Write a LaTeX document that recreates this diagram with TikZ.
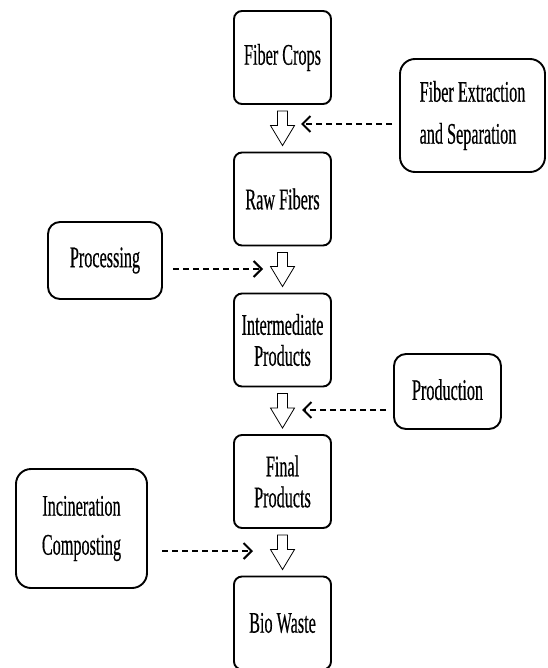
\documentclass[tikz,border=0pt]{standalone}
\usepackage{fontspec}
\setmainfont{Liberation Serif}[FakeStretch=0.54,FakeBold=0.4]
\usetikzlibrary{arrows.meta,calc}
\newcommand\flowblk[2]{%
  \draw[blockline] ($(#1.south)+(-5,6)$) -- ($(#1.south)+(5,6)$)
    -- ($(#2.north)+(5,-26)$) -- ($(#2.north)+(12,-26)$)
    -- ($(#2.north)+(0,-6)$) -- ($(#2.north)+(-12,-26)$)
    -- ($(#2.north)+(-5,-26)$) -- cycle;}
\begin{document}
\begin{tikzpicture}[x=1pt,y=-1pt,
  txt/.style={font=\fontsize{30}{31}\selectfont},
  mainbox/.style={draw,line width=1.9pt,rounded corners=8pt,minimum width=97pt,
    minimum height=93pt,inner sep=0pt,align=center,txt},
  sidebox/.style={draw,line width=1.9pt,rounded corners=12pt,inner sep=0pt,txt},
  blockline/.style={draw=black,line width=0.8pt,fill=white,line join=miter},
  dasharrow/.style={line width=2.1pt,dash pattern=on 6pt off 4pt,
    -{Straight Barb[length=8pt,width=16pt,line width=2pt]}}]
\useasboundingbox (0,0) rectangle (547,668);
\clip (0,0) rectangle (547,668);
% main column
\node[mainbox] (crops) at (282.5,57.5) {Fiber Crops};
\node[mainbox] (raw) at (282.5,199) {Raw Fibers};
\node[mainbox] (inter) at (282.5,340) {Intermediate\\Products};
\node[mainbox] (final) at (282.5,481.5) {Final\\Products};
\node[mainbox] (bio) at (282.5,623) {Bio Waste};
% side boxes
\node[sidebox,rounded corners=15pt,minimum width=145pt,minimum height=113pt,align=left]
  (fe) at (472.5,115.5) {Fiber Extraction\\[11pt]and Separation};
\node[sidebox,minimum width=114pt,minimum height=77pt] (proc) at (105,260.5) {\raisebox{3pt}{Processing}};
\node[sidebox,minimum width=107pt,minimum height=75pt] (prod) at (447.5,391.5) {\raisebox{4pt}{Production}};
\node[sidebox,rounded corners=15pt,minimum width=131pt,minimum height=119pt,align=center]
  (inc) at (81.5,528.5) {Incineration\\[8pt]Composting};
% block arrows
\flowblk{crops}{raw}
\flowblk{raw}{inter}
\flowblk{inter}{final}
\flowblk{final}{bio}
% dashed arrows
\coordinate (fe-a) at (392,124);
\coordinate (fe-b) at (301,124);
\coordinate (proc-a) at (173,269);
\coordinate (proc-b) at (263,269);
\coordinate (prod-a) at (386,410);
\coordinate (prod-b) at (302,410);
\coordinate (inc-a) at (162,551);
\coordinate (inc-b) at (253,551);
\draw[dasharrow] (fe-a) -- (fe-b);
\draw[dasharrow] (proc-a) -- (proc-b);
\draw[dasharrow] (prod-a) -- (prod-b);
\draw[dasharrow] (inc-a) -- (inc-b);
\end{tikzpicture}
\end{document}
